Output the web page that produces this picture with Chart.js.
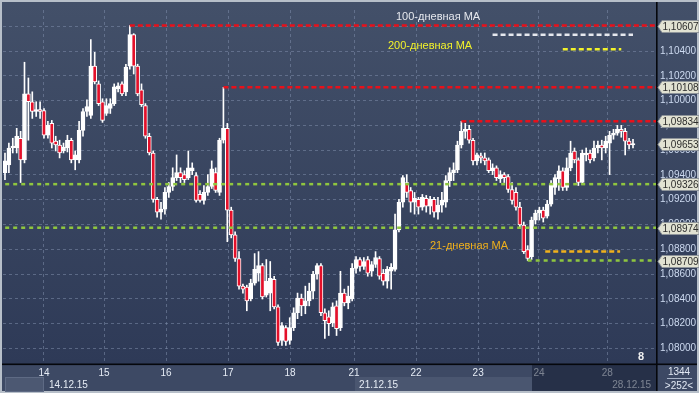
<!DOCTYPE html>
<html><head><meta charset="utf-8">
<script src="https://cdn.jsdelivr.net/npm/chart.js@4.4.0/dist/chart.umd.min.js"></script>
<style>html,body{margin:0;padding:0;background:#2f3a56;overflow:hidden}canvas{display:block}</style>
</head><body>
<canvas id="c" width="699" height="393"></canvas>
<script>
// ---- DATA (EUR/USD candles) ----
const opens=[1.09419,1.09482,1.09618,1.09618,1.09697,1.09522,1.10056,1.09992,1.09913,1.09929,
1.09921,1.09721,1.09817,1.09673,1.09642,1.09594,1.09618,1.09681,1.09522,1.09522,
1.09761,1.09913,1.09881,1.10279,1.10136,1.09992,1.09897,1.09937,1.09977,1.10096,
1.10136,1.10072,1.10279,1.10534,1.10279,1.10088,1.09961,1.09713,1.09578,1.09203,
1.09100,1.09124,1.09259,1.09307,1.09379,1.09419,1.09403,1.09379,1.09434,1.09395,
1.09243,1.09195,1.09259,1.09307,1.09419,1.09259,1.09681,1.09777,1.09116,1.08916,
1.08725,1.08502,1.08494,1.08398,1.08526,1.08606,1.08669,1.08430,1.08446,1.08558,
1.08335,1.08064,1.08167,1.08064,1.08167,1.08287,1.08406,1.08343,1.08383,1.08462,
1.08598,1.08669,1.08287,1.08255,1.08207,1.08343,1.08167,1.08446,1.08367,1.08398,
1.08645,1.08717,1.08661,1.08717,1.08622,1.08677,1.08725,1.08606,1.08542,1.08622,
1.08637,1.08956,1.09180,1.09339,1.09275,1.09180,1.09203,1.09140,1.09211,1.09148,
1.09203,1.09100,1.09156,1.09180,1.09355,1.09419,1.09442,1.09642,1.09753,1.09769,
1.09681,1.09514,1.09554,1.09538,1.09522,1.09434,1.09458,1.09371,1.09403,1.09387,
1.09283,1.09259,1.09140,1.08996,1.08797,1.08741,1.09036,1.09092,1.09116,1.09068,
1.09164,1.09299,1.09371,1.09434,1.09299,1.09458,1.09594,1.09522,1.09339,1.09562,
1.09578,1.09538,1.09618,1.09642,1.09618,1.09658,1.09721,1.09737,1.09769,1.09753,
1.09673,1.09642];
const highs=[1.09578,1.09658,1.09697,1.09777,1.09753,1.10311,1.10184,1.10072,1.09992,1.09992,
1.09937,1.09833,1.09841,1.09713,1.09681,1.09658,1.09721,1.09697,1.09594,1.09833,
1.09937,1.10008,1.10494,1.10391,1.10160,1.10016,1.10016,1.10016,1.10136,1.10144,
1.10152,1.10295,1.10607,1.10542,1.10295,1.10136,1.09977,1.09737,1.09594,1.09219,
1.09180,1.09299,1.09339,1.09458,1.09562,1.09458,1.09434,1.09594,1.09498,1.09419,
1.09275,1.09315,1.09403,1.09514,1.09458,1.09697,1.10108,1.09817,1.09140,1.08940,
1.08781,1.08518,1.08510,1.08558,1.08765,1.08781,1.08685,1.08717,1.08701,1.08582,
1.08351,1.08207,1.08183,1.08247,1.08327,1.08446,1.08438,1.08502,1.08526,1.08622,
1.08685,1.08685,1.08319,1.08303,1.08367,1.08383,1.08622,1.08478,1.08502,1.08685,
1.08741,1.08733,1.08733,1.08741,1.08701,1.08781,1.08741,1.08637,1.08661,1.08685,
1.09084,1.09203,1.09395,1.09403,1.09299,1.09259,1.09219,1.09243,1.09235,1.09227,
1.09219,1.09219,1.09259,1.09395,1.09458,1.09498,1.09673,1.09834,1.09817,1.09801,
1.09697,1.09578,1.09578,1.09578,1.09538,1.09490,1.09474,1.09434,1.09419,1.09403,
1.09339,1.09299,1.09180,1.09020,1.08829,1.09060,1.09116,1.09140,1.09140,1.09195,
1.09355,1.09403,1.09474,1.09458,1.09538,1.09673,1.09618,1.09538,1.09602,1.09618,
1.09602,1.09673,1.09673,1.09681,1.09713,1.09753,1.09769,1.09801,1.09801,1.09777,
1.09697,1.09689];
const lows=[1.09363,1.09419,1.09578,1.09578,1.09339,1.09498,1.09681,1.09857,1.09873,1.09857,
1.09697,1.09697,1.09618,1.09594,1.09538,1.09578,1.09586,1.09498,1.09442,1.09498,
1.09713,1.09873,1.09857,1.10136,1.09961,1.09825,1.09881,1.09897,1.09961,1.10072,
1.10040,1.10040,1.10255,1.10216,1.10040,1.09953,1.09697,1.09562,1.09180,1.09060,
1.09044,1.09084,1.09219,1.09275,1.09355,1.09339,1.09339,1.09363,1.09403,1.09180,
1.09180,1.09164,1.09235,1.09291,1.09259,1.09235,1.09658,1.08861,1.08892,1.08701,
1.08478,1.08446,1.08303,1.08383,1.08510,1.08542,1.08398,1.08414,1.08303,1.08319,
1.08024,1.08024,1.08024,1.08032,1.08143,1.08239,1.08263,1.08279,1.08343,1.08398,
1.08558,1.08263,1.08079,1.08103,1.08175,1.08103,1.08143,1.08343,1.08319,1.08383,
1.08606,1.08622,1.08637,1.08582,1.08582,1.08653,1.08558,1.08510,1.08486,1.08478,
1.08622,1.08940,1.09140,1.09219,1.09100,1.09084,1.09084,1.09116,1.09100,1.09084,
1.09060,1.09044,1.09100,1.09140,1.09307,1.09355,1.09419,1.09618,1.09697,1.09658,
1.09482,1.09482,1.09498,1.09482,1.09419,1.09403,1.09355,1.09339,1.09339,1.09259,
1.09164,1.09116,1.08972,1.08765,1.08709,1.08717,1.09004,1.09036,1.09020,1.09052,
1.09148,1.09243,1.09275,1.09275,1.09275,1.09434,1.09498,1.09315,1.09323,1.09514,
1.09498,1.09514,1.09578,1.09522,1.09578,1.09403,1.09689,1.09721,1.09705,1.09562,
1.09610,1.09618];
const closes=[1.09514,1.09618,1.09634,1.09713,1.09522,1.10056,1.09992,1.09913,1.09929,1.09913,
1.09721,1.09801,1.09658,1.09642,1.09578,1.09626,1.09681,1.09522,1.09562,1.09761,
1.09913,1.09953,1.10279,1.10152,1.09977,1.09841,1.09961,1.09977,1.10112,1.10120,
1.10056,1.10271,1.10534,1.10279,1.10056,1.09969,1.09713,1.09578,1.09203,1.09100,
1.09124,1.09259,1.09307,1.09379,1.09419,1.09379,1.09363,1.09458,1.09458,1.09195,
1.09195,1.09259,1.09307,1.09450,1.09275,1.09681,1.09777,1.09116,1.08916,1.08725,
1.08502,1.08478,1.08383,1.08526,1.08637,1.08669,1.08414,1.08542,1.08566,1.08335,
1.08048,1.08183,1.08056,1.08167,1.08287,1.08406,1.08343,1.08383,1.08462,1.08598,
1.08669,1.08287,1.08223,1.08199,1.08335,1.08159,1.08446,1.08367,1.08422,1.08645,
1.08717,1.08661,1.08701,1.08606,1.08677,1.08733,1.08582,1.08542,1.08637,1.08653,
1.08956,1.09180,1.09379,1.09259,1.09180,1.09211,1.09140,1.09219,1.09148,1.09203,
1.09100,1.09156,1.09195,1.09355,1.09419,1.09442,1.09642,1.09753,1.09769,1.09681,
1.09514,1.09562,1.09538,1.09514,1.09434,1.09458,1.09379,1.09403,1.09379,1.09283,
1.09195,1.09140,1.08996,1.08781,1.08725,1.09036,1.09092,1.09116,1.09052,1.09164,
1.09323,1.09379,1.09434,1.09299,1.09458,1.09578,1.09522,1.09339,1.09578,1.09578,
1.09522,1.09618,1.09642,1.09618,1.09673,1.09721,1.09737,1.09769,1.09753,1.09673,
1.09642,1.09653];

const dayLabels=['14','15','16','17','18','21','22','23','24','28'];
const dayPos=[10,25.4,41.3,57.2,73.1,89.5,105.4,121.3,136.9,154.4];
const weekLabels=['14.12.15','21.12.15','28.12.15'];
const weekDayIdx=[0,5,9];

const redLevels=[1.10607,1.10108,1.09834];
const redFrom=[32,56,117];
const greenLevels=[1.09326,1.08974,1.08709];
const greenFrom=[-2,-2,134];

const maNames=['100-дневная MA','200-дневная MA','21-дневная MA'];
const maValues=[1.10534,1.10415,1.08781];
const maFrom=[125,143,138.5];
const maTo=[161,158,157.7];
const maColors=['#e6e8ee','#f2f22a','#f0b11c'];

const yTickStep=0.002;
const yMin=1.07873, yMax=1.10733;
const lastClose=closes[closes.length-1];
const tagValues=[...redLevels,lastClose,...greenLevels];

// ---- datasets ----
const fmt=v=>v.toFixed(5).replace('.',',');
const datasets=[];
redLevels.forEach((v,k)=>datasets.push({type:'line',data:[{x:redFrom[k],y:v},{x:170,y:v}],borderColor:'#e8101a',borderWidth:2.5,borderDash:[5,3],pointRadius:0,fill:false,order:0}));
greenLevels.forEach((v,k)=>datasets.push({type:'line',data:[{x:greenFrom[k],y:v},{x:170,y:v}],borderColor:'#8fc63f',borderWidth:2.5,borderDash:[4,4],pointRadius:0,fill:false,order:0}));
maValues.forEach((v,k)=>datasets.push({type:'line',data:[{x:maFrom[k],y:v},{x:maTo[k],y:v}],borderColor:maColors[k],borderWidth:2.5,borderDash:[5,3],pointRadius:0,fill:false,order:0}));
datasets.push({type:'bar',order:2,grouped:false,barThickness:1,
  data:opens.map((o,i)=>({x:i,y:[lows[i],highs[i]]})),backgroundColor:'#ffffff',borderWidth:0});
datasets.push({type:'bar',order:1,grouped:false,barThickness:4,
  data:opens.map((o,i)=>({x:i,y:[o,closes[i]]})),
  backgroundColor:opens.map((o,i)=>closes[i]<o?'#e4102a':'#ffffff'),
  borderColor:'#ffffff',borderWidth:1,borderSkipped:false});

const chrome={
  id:'chrome',
  beforeDraw(chart){
    const ctx=chart.ctx;ctx.save();
    ctx.fillStyle='#b7bfc9';ctx.fillRect(0,0,699,393);
    const g=ctx.createLinearGradient(0,2,0,364);
    g.addColorStop(0,'#435069');g.addColorStop(1,'#2e3a57');
    ctx.fillStyle=g;ctx.fillRect(2,2,695,362);
    ctx.fillStyle='#3d4964';ctx.fillRect(2,364,695,27);
    ctx.fillStyle='#4c5872';ctx.fillRect(5,377,39,15);
    ctx.strokeStyle='#5e6a84';ctx.lineWidth=1;ctx.strokeRect(5.5,377.5,38,14);
    ctx.fillStyle='#4a5670';ctx.fillRect(355,377,177,14);
    ctx.restore();
  },
  afterDraw(chart){
    const ctx=chart.ctx,xs=chart.scales.x,ys=chart.scales.y;
    ctx.save();
    ctx.textBaseline='middle';ctx.textAlign='left';
    ctx.font='10px "Liberation Sans", Arial, sans-serif';
    weekLabels.forEach((t,k)=>{
      ctx.fillStyle='#e6ecf5';
      ctx.fillText(t,xs.getPixelForValue(dayPos[weekDayIdx[k]])+5,385);
    });
    ctx.fillStyle='rgba(16,24,44,0.5)';ctx.fillRect(532,365,125,26);
    // frame lines
    ctx.fillStyle='#05070c';
    ctx.fillRect(656,2,1.6,389);
    ctx.fillRect(2,363.5,695,1.6);
    // MA labels
    ctx.font='11px "Liberation Sans", Arial, sans-serif';
    ctx.fillStyle=maColors[0];ctx.fillText(maNames[0],396,17);
    ctx.fillStyle=maColors[1];ctx.fillText(maNames[1],388,46);
    ctx.fillStyle=maColors[2];ctx.fillText(maNames[2],430,246);
    // price tags
    ctx.font='10px "Liberation Sans", Arial, sans-serif';
    tagValues.forEach(v=>{
      const y=Math.round(ys.getPixelForValue(v));
      ctx.beginPath();ctx.moveTo(658,y+0.5);ctx.lineTo(662,y-5.5);ctx.lineTo(699,y-5.5);
      ctx.lineTo(699,y+6.5);ctx.lineTo(662,y+6.5);ctx.closePath();
      ctx.fillStyle='#e1e2d2';ctx.fill();
      ctx.strokeStyle='#8e949a';ctx.lineWidth=1;ctx.stroke();
      ctx.fillStyle='#2c2c2c';ctx.fillText(fmt(v),662.5,y+1);
    });
    // misc
    ctx.font='bold 11px "Liberation Sans", Arial, sans-serif';
    ctx.fillStyle='#f0f0f0';ctx.fillText('8',638,357);
    ctx.font='10px "Liberation Sans", Arial, sans-serif';ctx.textAlign='center';
    ctx.fillStyle='#e2e9f4';ctx.fillText('1344',679,372);ctx.fillText('>252<',679,386);
    ctx.fillStyle='#a9b4c8';ctx.fillRect(667,378,25,1);
    ctx.restore();
  }
};

new Chart(document.getElementById('c'),{
  type:'bar',
  data:{datasets},
  plugins:[chrome],
  options:{
    responsive:false,animation:false,devicePixelRatio:1,
    layout:{padding:{left:3,top:5,right:0,bottom:0}},
    plugins:{legend:{display:false},tooltip:{enabled:false},title:{display:false}},
    scales:{
      x:{type:'linear',min:-0.51,max:166.9,offset:false,
        grid:{offset:false,color:'rgba(125,140,170,0.55)',lineWidth:1,drawTicks:false},
        border:{display:false,dash:[3,3]},
        afterBuildTicks:s=>{s.ticks=dayPos.map(v=>({value:v}));},
        afterFit:s=>{s.height=29;},
        ticks:{autoSkip:false,maxRotation:0,padding:3,color:'#e6ecf5',
          font:{size:10,family:'"Liberation Sans", Arial, sans-serif'},
          callback:(v,i)=>dayLabels[i]}
      },
      y:{type:'linear',position:'right',min:yMin,max:yMax,
        grid:{color:'rgba(125,140,170,0.55)',lineWidth:1,drawTicks:false},
        border:{display:false,dash:[3,3]},
        afterFit:s=>{s.width=43;},
        ticks:{stepSize:yTickStep,includeBounds:false,padding:4,color:'#cddaf0',
          font:{size:10,family:'"Liberation Sans", Arial, sans-serif'},
          callback:v=>fmt(v)}
      }
    }
  }
});
</script>
</body></html>
